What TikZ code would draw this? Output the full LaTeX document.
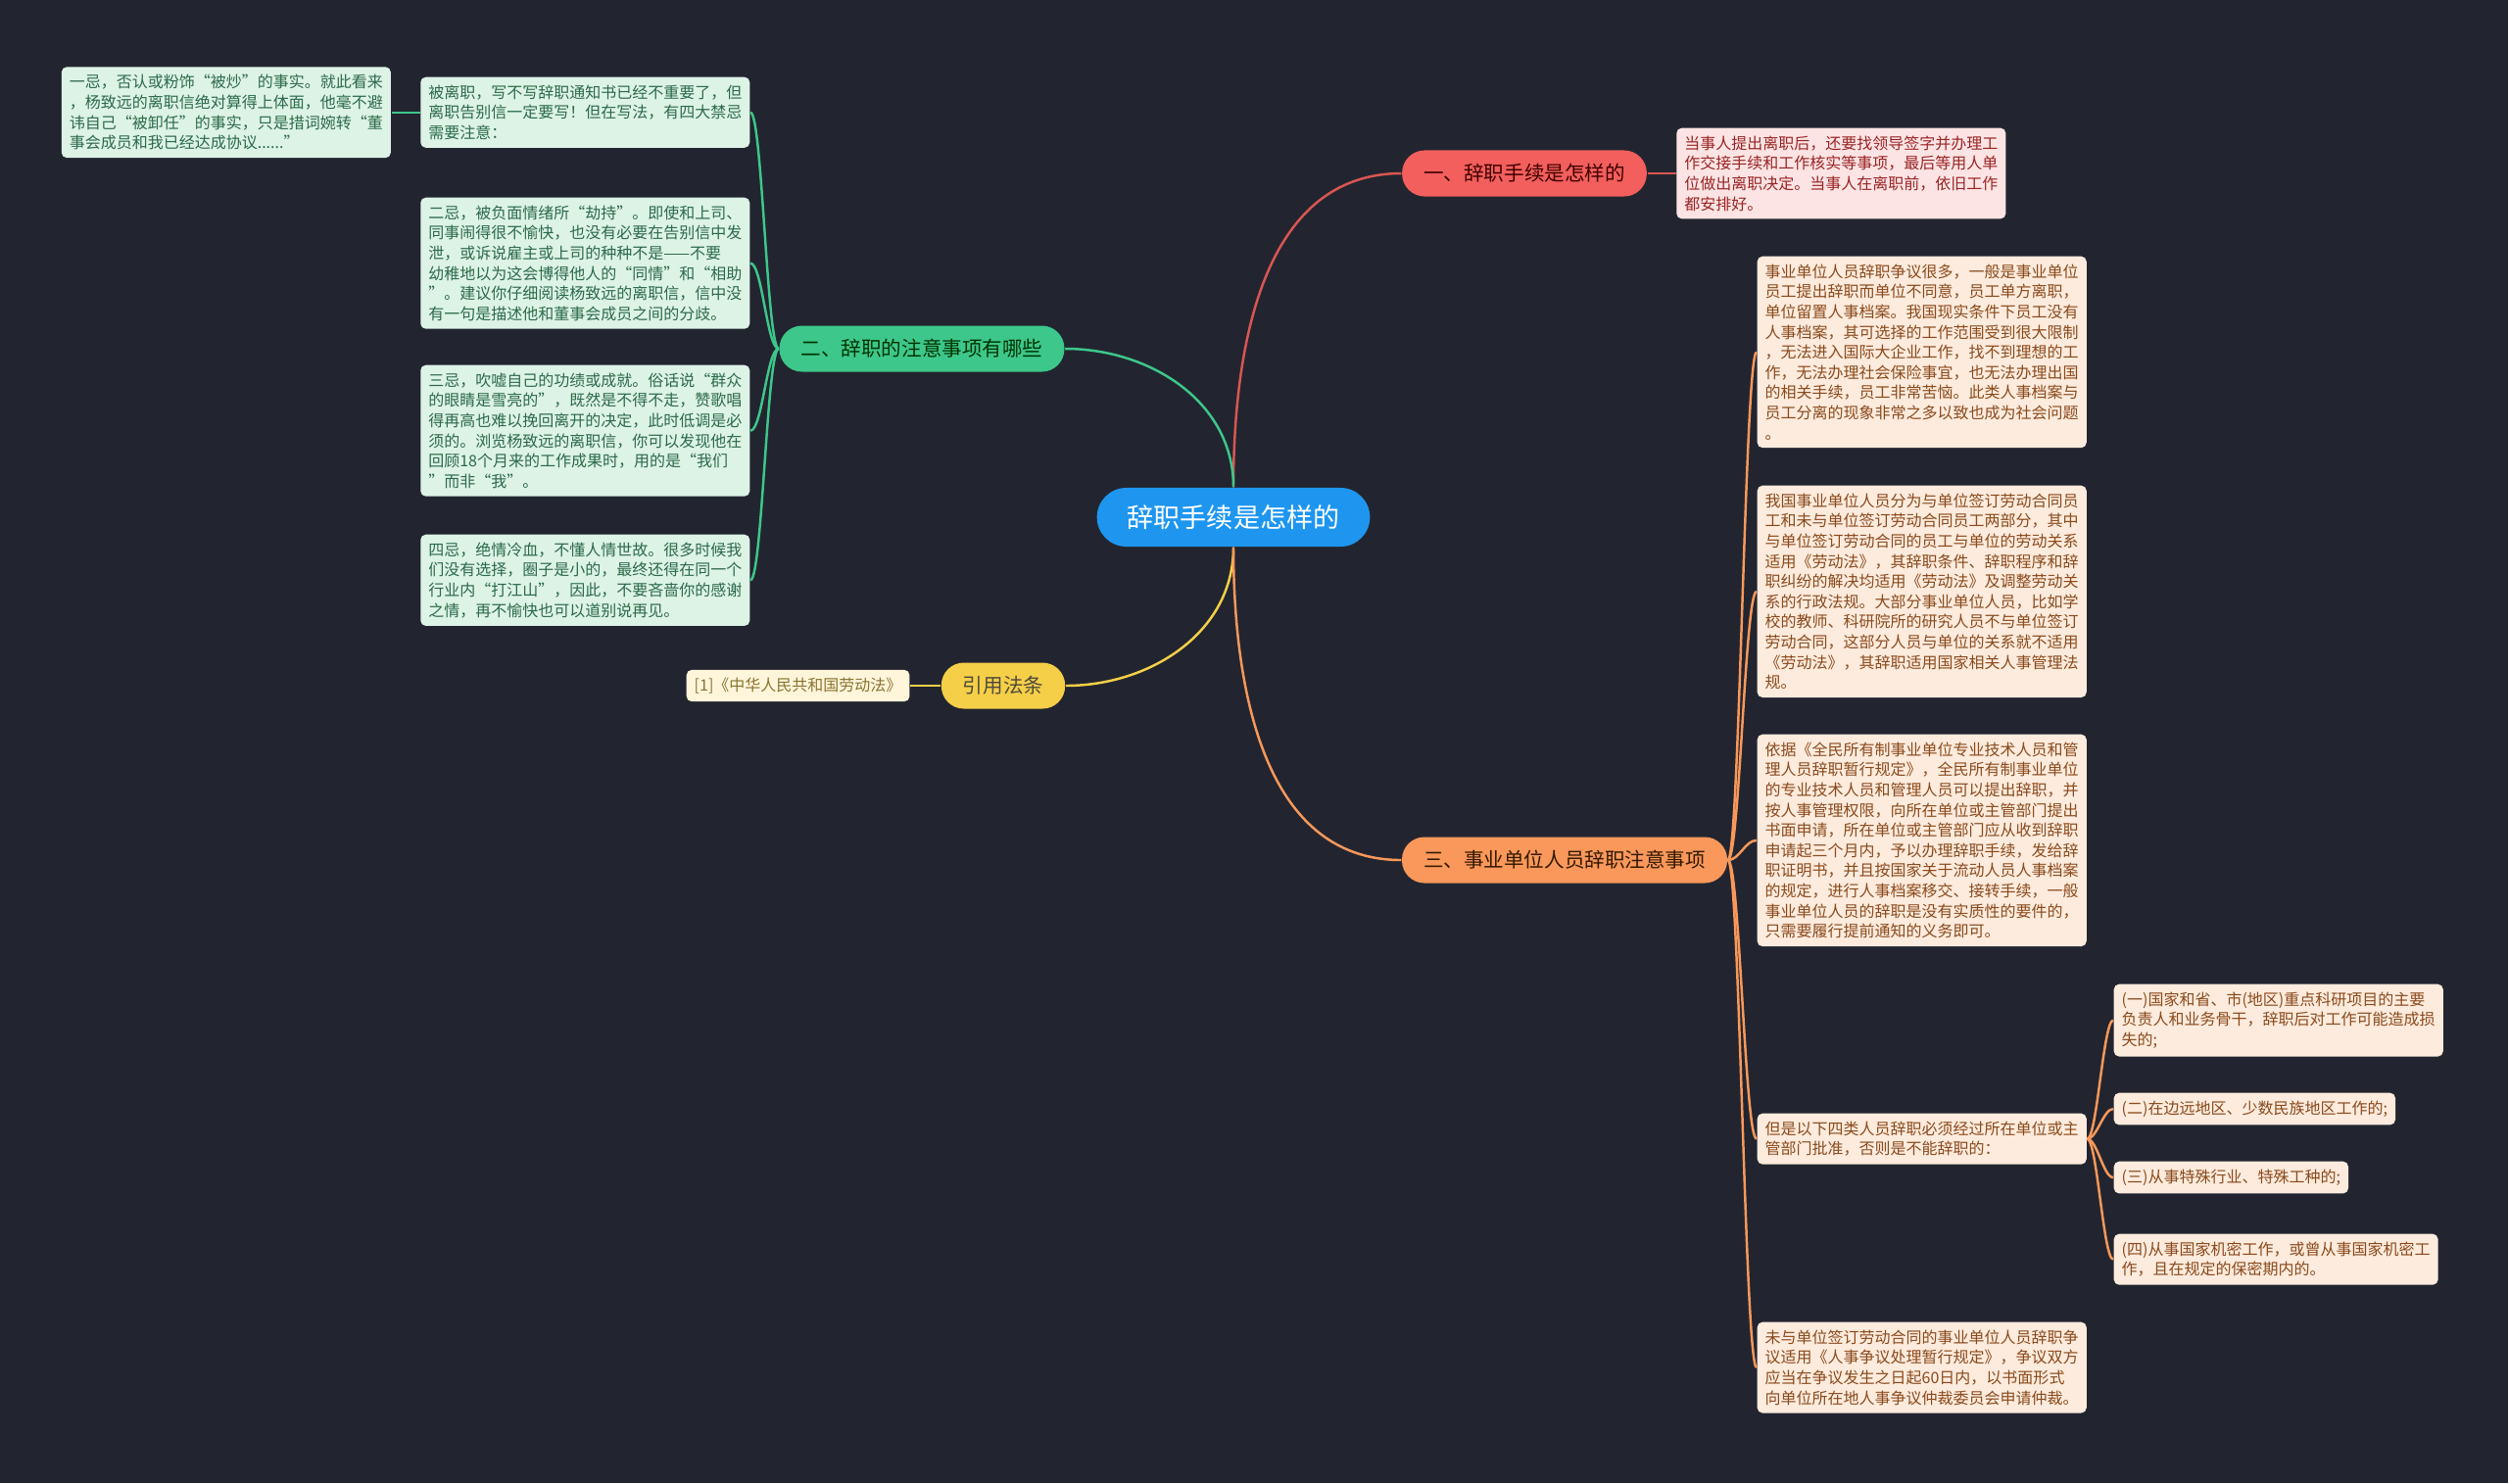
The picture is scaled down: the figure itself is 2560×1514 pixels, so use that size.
\documentclass[tikz,border=0pt]{standalone}
\usepackage{fontspec}
\setmainfont{Noto Sans CJK SC}
\usetikzlibrary{positioning}

\definecolor{bgdark}{HTML}{22252F}
\definecolor{rootblue}{HTML}{1E96F0}
\definecolor{redmain}{HTML}{F25F5C}
\definecolor{redtext}{HTML}{9A2424}
\definecolor{redfill}{HTML}{FDE4E4}
\definecolor{greenmain}{HTML}{3DC78A}
\definecolor{greentext}{HTML}{2B6A48}
\definecolor{greenfill}{HTML}{DDF3E6}
\definecolor{yellowmain}{HTML}{F6CF48}
\definecolor{yellowtext}{HTML}{8A7430}
\definecolor{yellowfill}{HTML}{FFF5DB}
\definecolor{orangemain}{HTML}{F9985A}
\definecolor{orangetext}{HTML}{8A4A1C}
\definecolor{orangefill}{HTML}{FDEBDD}

\begin{document}
\begin{tikzpicture}[
  x=0.01cm, y=0.01cm,
  pill/.style={rounded corners=0.23cm, minimum height=0.47cm, inner xsep=0.22cm, inner ysep=0pt, font=\fontsize{5.85}{7}\selectfont},
  rootpill/.style={pill, fill=rootblue, text=white, rounded corners=0.3cm, minimum height=0.6cm, inner xsep=0.31cm, font=\fontsize{7.7}{9}\selectfont},
  note/.style={rounded corners=1.5pt, align=left, inner xsep=0.08cm, inner ysep=0.08cm, font=\fontsize{4.55}{5.86}\selectfont},
  rednote/.style={note, fill=redfill, text=redtext},
  greennote/.style={note, fill=greenfill, text=greentext},
  yellownote/.style={note, fill=yellowfill, text=yellowtext},
  orangenote/.style={note, fill=orangefill, text=orangetext},
  link/.style={line width=0.7pt},
  redlink/.style={link, draw=redmain!90!black},
  greenlink/.style={link, draw=greenmain},
  yellowlink/.style={link, draw=yellowmain},
  orangelink/.style={link, draw=orangemain}
]
\fill[bgdark] (0,0) rectangle (2560,-1514);
\useasboundingbox (0,0) rectangle (2560,-1514);

\node[rootpill] (root) at (1259,-528) {辞职手续是怎样的};

% 一
\node[pill, fill=redmain, text=black!75!red] (proc) at (1556,-177) {一、辞职手续是怎样的};
\node[rednote, right=0.29cm of proc] (procnote) {当事人提出离职后，还要找领导签字并办理工\\作交接手续和工作核实等事项，最后等用人单\\位做出离职决定。当事人在离职前，依旧工作\\都安排好。};

% 二
\node[pill, fill=greenmain, text=black!80!green] (tips) at (941,-356) {二、辞职的注意事项有哪些};
\node[greennote, anchor=north east] (tip0) at (766,-78) {被离职，写不写辞职通知书已经不重要了，但\\离职告别信一定要写！但在写法，有四大禁忌\\需要注意：};
\node[greennote, left=0.29cm of tip0] (tip0a) {一忌，否认或粉饰“被炒”的事实。就此看来\\，杨致远的离职信绝对算得上体面，他毫不避\\讳自己“被卸任”的事实，只是措词婉转“董\\事会成员和我已经达成协议......”};
\node[greennote, anchor=north east] (tip1) at (766,-201) {二忌，被负面情绪所“劫持”。即使和上司、\\同事闹得很不愉快，也没有必要在告别信中发\\泄，或诉说雇主或上司的种种不是——不要\\幼稚地以为这会博得他人的“同情”和“相助\\”。建议你仔细阅读杨致远的离职信，信中没\\有一句是描述他和董事会成员之间的分歧。};
\node[greennote, anchor=north east] (tip2) at (766,-372) {三忌，吹嘘自己的功绩或成就。俗话说“群众\\的眼睛是雪亮的”，既然是不得不走，赞歌唱\\得再高也难以挽回离开的决定，此时低调是必\\须的。浏览杨致远的离职信，你可以发现他在\\回顾18个月来的工作成果时，用的是“我们\\”而非“我”。};
\node[greennote, anchor=north east] (tip3) at (766,-545) {四忌，绝情冷血，不懂人情世故。很多时候我\\们没有选择，圈子是小的，最终还得在同一个\\行业内“打江山”，因此，不要吝啬你的感谢\\之情，再不愉快也可以道别说再见。};

% 引用
\node[pill, fill=yellowmain, text=black!80!yellow] (law) at (1024,-700) {引用法条};
\node[yellownote, left=0.31cm of law] (lawref) {[1]《中华人民共和国劳动法》};

% 三
\node[pill, fill=orangemain, text=black!80!orange] (unit) at (1597,-878) {三、事业单位人员辞职注意事项};
\node[orangenote, anchor=north west] (unit1) at (1793,-261) {事业单位人员辞职争议很多，一般是事业单位\\员工提出辞职而单位不同意，员工单方离职，\\单位留置人事档案。我国现实条件下员工没有\\人事档案，其可选择的工作范围受到很大限制\\，无法进入国际大企业工作，找不到理想的工\\作，无法办理社会保险事宜，也无法办理出国\\的相关手续，员工非常苦恼。此类人事档案与\\员工分离的现象非常之多以致也成为社会问题\\。};
\node[orangenote, anchor=north west] (unit2) at (1793,-495) {我国事业单位人员分为与单位签订劳动合同员\\工和未与单位签订劳动合同员工两部分，其中\\与单位签订劳动合同的员工与单位的劳动关系\\适用《劳动法》，其辞职条件、辞职程序和辞\\职纠纷的解决均适用《劳动法》及调整劳动关\\系的行政法规。大部分事业单位人员，比如学\\校的教师、科研院所的研究人员不与单位签订\\劳动合同，这部分人员与单位的关系就不适用\\《劳动法》，其辞职适用国家相关人事管理法\\规。};
\node[orangenote, anchor=north west] (unit3) at (1793,-749) {依据《全民所有制事业单位专业技术人员和管\\理人员辞职暂行规定》，全民所有制事业单位\\的专业技术人员和管理人员可以提出辞职，并\\按人事管理权限，向所在单位或主管部门提出\\书面申请，所在单位或主管部门应从收到辞职\\申请起三个月内，予以办理辞职手续，发给辞\\职证明书，并且按国家关于流动人员人事档案\\的规定，进行人事档案移交、接转手续，一般\\事业单位人员的辞职是没有实质性的要件的，\\只需要履行提前通知的义务即可。};
\node[orangenote, anchor=north west] (unit4) at (1793,-1136) {但是以下四类人员辞职必须经过所在单位或主\\管部门批准，否则是不能辞职的：};
\node[orangenote, anchor=north west] (unit5) at (1793,-1349) {未与单位签订劳动合同的事业单位人员辞职争\\议适用《人事争议处理暂行规定》，争议双方\\应当在争议发生之日起60日内，以书面形式\\向单位所在地人事争议仲裁委员会申请仲裁。};
\node[orangenote, anchor=north west] (case1) at (2157,-1004) {(一)国家和省、市(地区)重点科研项目的主要\\负责人和业务骨干，辞职后对工作可能造成损\\失的;};
\node[orangenote, anchor=north west] (case2) at (2157,-1115) {(二)在边远地区、少数民族地区工作的;};
\node[orangenote, anchor=north west] (case3) at (2157,-1185) {(三)从事特殊行业、特殊工种的;};
\node[orangenote, anchor=north west] (case4) at (2157,-1259) {(四)从事国家机密工作，或曾从事国家机密工\\作，且在规定的保密期内的。};

\draw[redlink] (root.north) to[out=90,in=180] (proc.west);
\draw[redlink] (proc) -- (procnote);
\draw[greenlink] (root.north) to[out=90,in=0] (tips.east);
\foreach \t in {tip0,tip1,tip2,tip3}
  \draw[greenlink] (tips.west) to[out=180,in=0,distance=0.12cm] (\t.east);
\draw[greenlink] (tip0) -- (tip0a);
\draw[yellowlink] (root.south) to[out=-90,in=0] (law.east);
\draw[yellowlink] (law) -- (lawref);
\draw[orangelink] (root.south) to[out=-90,in=180] (unit.west);
\foreach \u in {unit1,unit2,unit3,unit4,unit5}
  \draw[orangelink] (unit.east) to[out=0,in=180,distance=0.12cm] (\u.west);
\foreach \c in {case1,case2,case3,case4}
  \draw[orangelink] (unit4.east) to[out=0,in=180,distance=0.1cm] (\c.west);
\end{tikzpicture}
\end{document}
